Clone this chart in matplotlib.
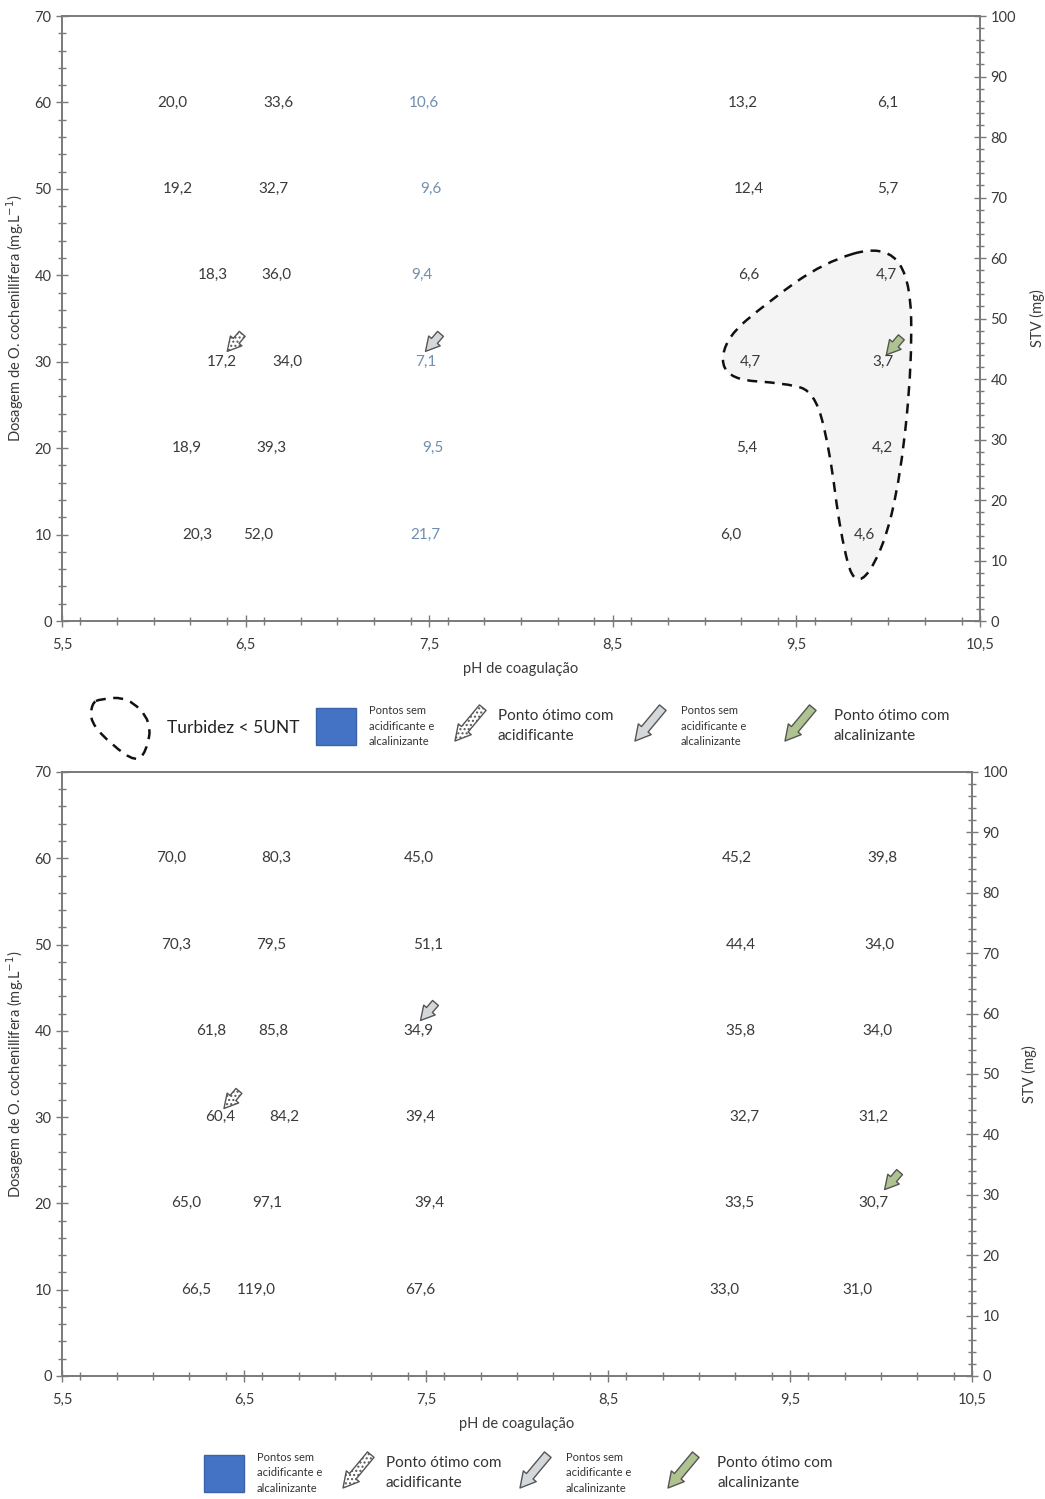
import numpy as np
import matplotlib
matplotlib.use("Agg")
import matplotlib.pyplot as plt
from matplotlib.path import Path
from matplotlib.patches import PathPatch, Rectangle
from matplotlib.ticker import MultipleLocator, FixedLocator, FuncFormatter

plt.rcParams['font.family'] = ['Lato', 'DejaVu Sans']

# ---- data ----
dosagens = [60, 50, 40, 30, 20, 10]
ph_ticks = [5.5, 6.5, 7.5, 8.5, 9.5, 10.5]

# pH position of each column, per row (top chart)
ph_top = [
    [6.10, 6.68, 7.47, 9.21, 10.00],
    [6.13, 6.65, 7.51, 9.24, 10.00],
    [6.32, 6.67, 7.46, 9.24, 9.99],
    [6.37, 6.73, 7.48, 9.25, 9.97],
    [6.18, 6.64, 7.52, 9.23, 9.97],
    [6.24, 6.57, 7.48, 9.14, 9.87],
]
valores_top = [
    ["20,0", "33,6", "10,6", "13,2", "6,1"],
    ["19,2", "32,7", "9,6", "12,4", "5,7"],
    ["18,3", "36,0", "9,4", "6,6", "4,7"],
    ["17,2", "34,0", "7,1", "4,7", "3,7"],
    ["18,9", "39,3", "9,5", "5,4", "4,2"],
    ["20,3", "52,0", "21,7", "6,0", "4,6"],
]

ph_bot = [
    [6.10, 6.68, 7.46, 9.21, 10.01],
    [6.13, 6.65, 7.51, 9.23, 9.99],
    [6.32, 6.66, 7.46, 9.23, 9.98],
    [6.37, 6.72, 7.47, 9.25, 9.96],
    [6.18, 6.63, 7.52, 9.22, 9.96],
    [6.24, 6.57, 7.47, 9.14, 9.87],
]
valores_bot = [
    ["70,0", "80,3", "45,0", "45,2", "39,8"],
    ["70,3", "79,5", "51,1", "44,4", "34,0"],
    ["61,8", "85,8", "34,9", "35,8", "34,0"],
    ["60,4", "84,2", "39,4", "32,7", "31,2"],
    ["65,0", "97,1", "39,4", "33,5", "30,7"],
    ["66,5", "119,0", "67,6", "33,0", "31,0"],
]

# region "Turbidez < 5UNT" (control points, pH / dosagem)
regiao_ph = [9.97, 10.12, 10.13, 10.07, 9.97, 9.82, 9.74, 9.68, 9.60, 9.45,
             9.10, 9.10, 9.35, 9.65, 9.88]
regiao_dose = [43.5, 40.0, 30.0, 17.0, 8.0, 3.5, 10.0, 20.0, 26.5, 27.5,
               28.0, 32.5, 37.0, 41.5, 43.5]

# optimal-point arrows: (pH, dosagem) of the arrow head
seta_acid_top = (6.40, 31.2)
seta_cinza_top = (7.48, 31.2)
seta_alc_top = (9.99, 30.8)
seta_acid_bot = (6.39, 31.0)
seta_cinza_bot = (7.47, 41.2)
seta_alc_bot = (10.02, 21.6)

cor_texto = "#3a3a3a"
cor_azul = "#6f8fae"
cor_eixo = "#7a7a7a"
verde = "#aec38f"
cinza = "#d5d8da"


def fmt_virg(v, pos):
    s = "%g" % v
    return s.replace(".", ",")


def curva_fechada(xs, ys):
    # smooth closed curve: quadratic beziers through midpoints of control points
    pts = np.column_stack([xs, ys])[:-1]
    n = len(pts)
    mids = (pts + np.roll(pts, -1, axis=0)) / 2
    verts = [mids[-1]]
    codes = [Path.MOVETO]
    for i in range(n):
        verts += [pts[i], mids[i]]
        codes += [Path.CURVE3, Path.CURVE3]
    return Path(verts, codes)


def seta(ax, cabeca, face, hatch=None, dx=12, dy=14, coords='data', lw=1.0,
         hw=0.55, tw=0.28, scale=1.0):
    st = "simple,head_width=%.2f,head_length=%.2f,tail_width=%.2f" % (hw, 0.5, tw)
    ax.annotate("", xy=cabeca, xycoords=coords,
                xytext=(dx * scale, dy * scale), textcoords='offset points',
                arrowprops=dict(arrowstyle=st, fc=face, ec="#555555", lw=lw,
                                hatch=hatch, mutation_scale=22 * scale,
                                shrinkA=0, shrinkB=0))


def montar(ax, ph, valores, azul_col):
    ax.set_xlim(5.5, 10.5)
    ax.set_ylim(0, 70)
    ax.xaxis.set_major_locator(FixedLocator(ph_ticks))
    ax.xaxis.set_minor_locator(MultipleLocator(0.2))
    ax.yaxis.set_major_locator(MultipleLocator(10))
    ax.yaxis.set_minor_locator(MultipleLocator(2))
    ax.xaxis.set_major_formatter(FuncFormatter(fmt_virg))
    ax.tick_params(which='both', direction='inout', colors=cor_eixo,
                   labelcolor=cor_texto, labelsize=10.5)
    ax.tick_params(which='major', length=8, width=1)
    ax.tick_params(which='minor', length=6, width=1)
    ax.tick_params(axis='x', which='major', pad=8)
    for s in ax.spines.values():
        s.set_color(cor_eixo)
        s.set_linewidth(1.2)
    ax.set_xlabel("pH de coagulação", fontsize=10.5, color=cor_texto)
    ax.set_ylabel("Dosagem de O. cochenillifera (mg.L$^{-1}$)", fontsize=10.5,
                  color=cor_texto, labelpad=6)
    ax.xaxis.set_label_coords(0.5, -0.068)
    for i, d in enumerate(dosagens):
        for j in range(5):
            c = cor_azul if (azul_col and j == 2) else cor_texto
            ax.text(ph[i][j], d, valores[i][j], ha='center', va='center',
                    fontsize=11, color=c, zorder=5)
    ax2 = ax.twinx()
    ax2.set_ylim(0, 100)
    ax2.yaxis.set_major_locator(MultipleLocator(10))
    ax2.yaxis.set_minor_locator(MultipleLocator(2))
    ax2.tick_params(which='both', direction='inout', colors=cor_eixo,
                    labelcolor=cor_texto, labelsize=10.5)
    ax2.tick_params(which='major', length=8, width=1)
    ax2.tick_params(which='minor', length=6, width=1)
    for s in ax2.spines.values():
        s.set_color(cor_eixo)
        s.set_linewidth(1.2)
    ax2.set_ylabel("STV (mg)", fontsize=10.5, color=cor_texto, labelpad=10)
    return ax2


fig = plt.figure(figsize=(10.45, 14.99), dpi=100)

ax1 = fig.add_axes([0.0593, 0.5857, 0.8785, 0.4036])
montar(ax1, ph_top, valores_top, True)
ax1.add_patch(PathPatch(curva_fechada(regiao_ph, regiao_dose), fc="#f4f4f4",
                        ec="#111111", lw=1.8, ls=(0, (4, 3)), zorder=2))
seta(ax1, seta_acid_top, "white", hatch="....", scale=0.9)
seta(ax1, seta_cinza_top, cinza, scale=0.9)
seta(ax1, seta_alc_top, verde, scale=0.9)

ax3 = fig.add_axes([0.0593, 0.0821, 0.8708, 0.4029])
montar(ax3, ph_bot, valores_bot, False)
seta(ax3, seta_acid_bot, "white", hatch="....", scale=0.9)
seta(ax3, seta_cinza_bot, cinza, scale=0.9)
seta(ax3, seta_alc_bot, verde, scale=0.9)

# legends drawn on an overlay axes in image pixel coordinates
lg = fig.add_axes([0, 0, 1, 1])
lg.set_xlim(0, 1045)
lg.set_ylim(1499, 0)
lg.axis('off')

blob_x = [100, 128, 152, 146, 136, 112, 90, 92, 100]
blob_y = [699, 697, 722, 752, 762, 745, 722, 703, 699]
lg.add_patch(PathPatch(curva_fechada(blob_x, blob_y), fc="white", ec="#111111",
                       lw=1.8, ls=(0, (4, 3))))
lg.text(167, 728, "Turbidez < 5UNT", fontsize=12.5, color="#222222", va='center')

cor_leg = "#333333"
for (bx, by, ax_, tx1, ax2_, tx2, ax3_, tx3) in [
        (316, 708, 455, 498, 635, 681, 785, 834),
        (204, 1455, 343, 386, 520, 566, 668, 717)]:
    lg.add_patch(Rectangle((bx, by), 40, 37, fc="#4472c4", ec="#3b63a8"))
    cy = by + 18
    lg.text(bx + 53, cy, "Pontos sem\nacidificante e\nalcalinizante", fontsize=8,
            color=cor_leg, va='center', linespacing=1.45)
    seta(lg, (ax_, cy + 15), "white", hatch="....", dx=20, dy=24)
    lg.text(tx1, cy, "Ponto ótimo com\nacidificante", fontsize=11,
            color=cor_leg, va='center', linespacing=1.5)
    seta(lg, (ax2_, cy + 15), cinza, dx=20, dy=24)
    lg.text(tx2, cy, "Pontos sem\nacidificante e\nalcalinizante", fontsize=8,
            color=cor_leg, va='center', linespacing=1.45)
    seta(lg, (ax3_, cy + 15), verde, dx=20, dy=24)
    lg.text(tx3, cy, "Ponto ótimo com\nalcalinizante", fontsize=11,
            color=cor_leg, va='center', linespacing=1.5)

fig.savefig("out.png", dpi=100)
